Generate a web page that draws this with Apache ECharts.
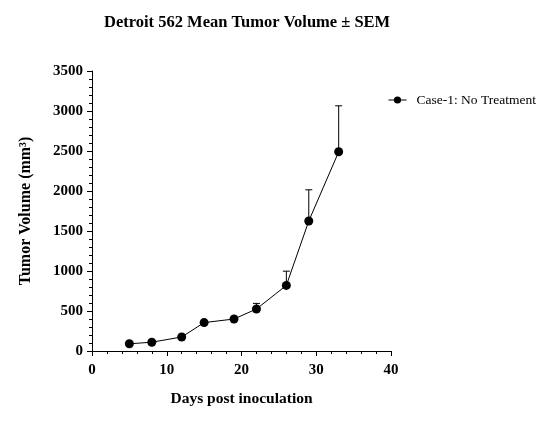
<!DOCTYPE html>
<html>
<head>
<meta charset="utf-8">
<script src="https://cdn.jsdelivr.net/npm/echarts@6/dist/echarts.min.js"></script>
<style>html,body{margin:0;padding:0;background:#fff}#c{width:547px;height:439px}</style>
</head>
<body>
<div id="c"></div>
<script>
const days = [5, 8, 12, 15, 19, 22, 26, 29, 33];
const meanVolume = [90, 110, 175, 355, 400, 525, 820, 1625, 2490];
const sem = [10, 12, 15, 20, 20, 70, 178, 390, 575];
const seriesName = 'Case-1: No Treatment';
const xTicks = [0, 10, 20, 30, 40];
const yTicks = [0, 500, 1000, 1500, 2000, 2500, 3000, 3500];

const serif = '"Liberation Serif", "Times New Roman", serif';
const chart = echarts.init(document.getElementById('c'), null, {renderer: 'canvas'});

const lineData = days.map((d, i) => [d, meanVolume[i]]);
const errData = days.map((d, i) => [d, meanVolume[i], meanVolume[i] + sem[i]]);

chart.setOption({
  animation: false,
  backgroundColor: '#fff',
  title: {
    text: 'Detroit 562 Mean Tumor Volume \u00b1 SEM',
    left: 99, top: 9,
    textStyle: {fontFamily: serif, fontWeight: 'bold', fontSize: 16.5, color: '#000'}
  },
  legend: {
    left: 383, top: 88,
    itemWidth: 18, itemHeight: 9, itemGap: 4,
    data: [seriesName],
    lineStyle: {width: 1},
    textStyle: {fontFamily: serif, fontSize: 13.5, color: '#000', padding: [0, 0, 0, 5]}
  },
  grid: {left: 92, right: 156, top: 71, bottom: 88, containLabel: false},
  xAxis: {
    type: 'value', min: xTicks[0], max: xTicks[xTicks.length - 1], interval: 10,
    name: 'Days post inoculation', nameLocation: 'middle', nameGap: 40,
    nameTextStyle: {fontFamily: serif, fontWeight: 'bold', fontSize: 15.5, color: '#000'},
    axisLine: {show: true, onZero: false, lineStyle: {color: '#000', width: 1}},
    axisTick: {show: true, length: 5, lineStyle: {color: '#000'}},
    minorTick: {show: true, splitNumber: 5, length: 3, lineStyle: {color: '#000'}},
    axisLabel: {fontFamily: serif, fontWeight: 'bold', fontSize: 15, color: '#000', margin: 12,
      formatter: v => String(v)},
    splitLine: {show: false}
  },
  yAxis: {
    type: 'value', min: yTicks[0], max: yTicks[yTicks.length - 1], interval: 500,
    name: 'Tumor Volume (mm\u00b3)', nameLocation: 'middle', nameGap: 58,
    nameTextStyle: {fontFamily: serif, fontWeight: 'bold', fontSize: 16, color: '#000'},
    axisLine: {show: true, lineStyle: {color: '#000', width: 1}},
    axisTick: {show: true, length: 5, lineStyle: {color: '#000'}},
    minorTick: {show: true, splitNumber: 5, length: 3, lineStyle: {color: '#000'}},
    axisLabel: {fontFamily: serif, fontWeight: 'bold', fontSize: 15, color: '#000', margin: 9,
      formatter: v => String(v)},
    splitLine: {show: false}
  },
  series: [
    {
      type: 'custom',
      name: 'SEM',
      data: errData,
      z: 1,
      renderItem: function (params, api) {
        const x = api.value(0);
        const p0 = api.coord([x, api.value(1)]);
        const p1 = api.coord([x, api.value(2)]);
        const hw = 3.5;
        return {
          type: 'group',
          children: [
            {type: 'line', shape: {x1: p0[0], y1: p0[1], x2: p1[0], y2: p1[1]}, style: {stroke: '#000', lineWidth: 1}},
            {type: 'line', shape: {x1: p1[0] - hw, y1: p1[1], x2: p1[0] + hw, y2: p1[1]}, style: {stroke: '#000', lineWidth: 1}}
          ]
        };
      }
    },
    {
      type: 'line',
      name: seriesName,
      data: lineData,
      z: 2,
      symbol: 'circle',
      symbolSize: 9,
      lineStyle: {color: '#000', width: 1},
      itemStyle: {color: '#000'}
    }
  ]
});
</script>
</body>
</html>
